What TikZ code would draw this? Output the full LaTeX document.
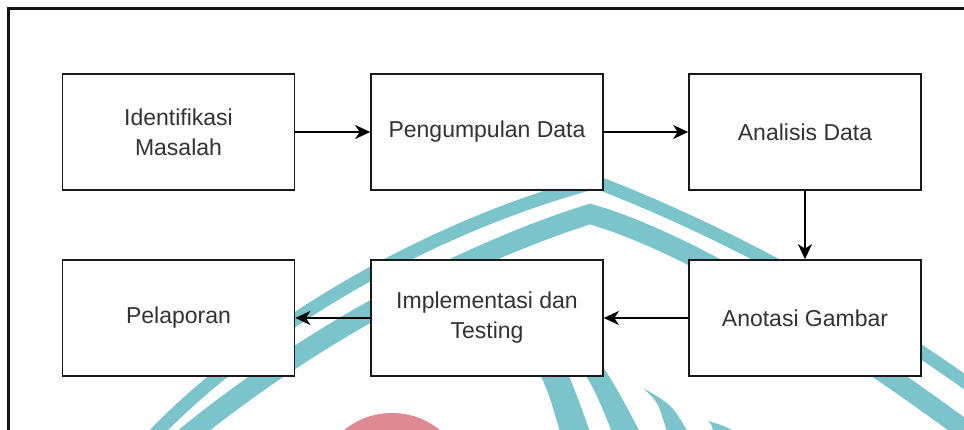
\documentclass[tikz,border=0pt]{standalone}
\usepackage{fontspec}
\setmainfont{Liberation Sans}
\usetikzlibrary{arrows.meta}
\definecolor{wmteal}{HTML}{7BC4CC}
\definecolor{wmpink}{HTML}{DF8A92}
\definecolor{txtgray}{HTML}{333333}
\definecolor{edgegray}{HTML}{1A1A1A}
\begin{document}
\begin{tikzpicture}[x=1pt,y=-1pt,
  stepbox/.style={draw=edgegray,line width=1.7pt,fill=white,minimum width=232pt,minimum height=116pt,inner sep=0pt,align=center,text=txtgray,font=\fontsize{23}{30}\selectfont},
  conn/.style={draw=black,line width=1.6pt,-{Stealth[length=15pt,width=14pt,inset=4.5pt]}},
  bandA/.style={draw=wmteal,line width=13pt,line join=round},
  bandB/.style={draw=wmteal,line width=20pt,line join=round},
  frameline/.style={draw=black!92,line width=2.6pt,line join=miter}]
\useasboundingbox (0,0) rectangle (964,430);
\begin{scope}
  \clip (0,0) rectangle (964,430);
  % watermark
  \draw[bandA] (140,450) .. controls (230,350) and (400,235) .. (596,182)
               .. controls (700,222) and (840,290) .. (990,400);
  \draw[bandB] (170,450) .. controls (300,340) and (460,255) .. (590,214)
               .. controls (680,240) and (810,315) .. (985,445);
  \fill[wmteal] (528,350) -- (558,350) .. controls (575,390) .. (590,432) -- (560,432) .. controls (548,390) .. (528,350) -- cycle;
  \fill[wmteal] (570,350) -- (592,350) .. controls (615,385) .. (640,432) -- (612,432) .. controls (595,390) .. (570,350) -- cycle;
  \fill[wmteal] (643,388) .. controls (658,402) .. (667,432) -- (688,432) .. controls (672,405) .. (643,388) -- cycle;
  \fill[wmteal] (708,421) .. controls (712,425) .. (713,432) -- (735,432) .. controls (725,426) .. (708,421) -- cycle;
  \fill[wmpink] (392,489) circle[radius=76];
\end{scope}
% frame
\draw[frameline] (8.7,432) -- (8.7,8.7) -- (966,8.7);
% boxes
\node[stepbox] (idm) at (178.5,132) {Identifikasi\\Masalah};
\node[stepbox] (pgd) at (487,132) {Pengumpulan Data};
\node[stepbox] (ans) at (805,132) {Analisis Data};
\node[stepbox] (plp) at (178.5,318) {Pelaporan};
\node[stepbox] (imt) at (487,318) {Implementasi dan\\Testing};
\node[stepbox] (ang) at (805,318) {Anotasi Gambar};
% connectors
\draw[conn] (idm) -- (pgd);
\draw[conn] (pgd) -- (ans);
\draw[conn] (ans) -- (ang);
\draw[conn] (ang) -- (imt);
\draw[conn] (imt) -- (plp);
\end{tikzpicture}
\end{document}
